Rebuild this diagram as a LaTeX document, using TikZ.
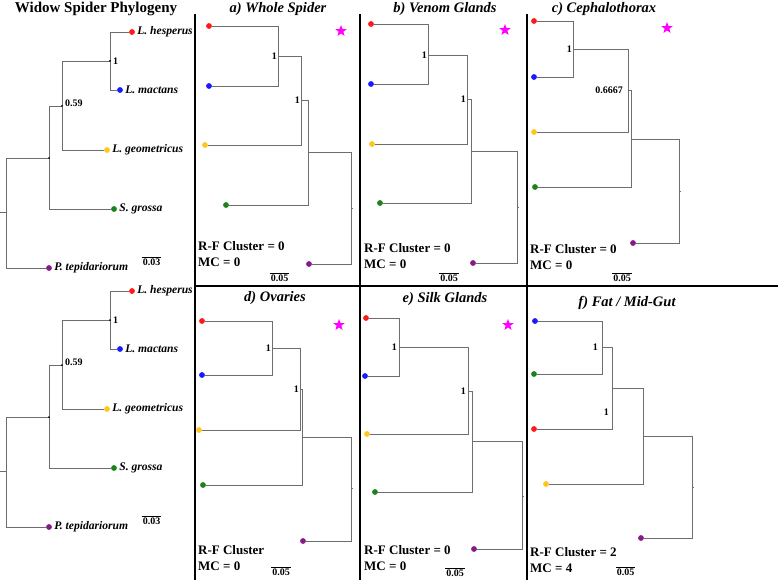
\documentclass[tikz,border=0pt]{standalone}
\usepackage{fontspec}
\setmainfont{Liberation Serif}
\usepackage{xcolor}
\definecolor{cEdge}{HTML}{6E6E6E}
\definecolor{cRed}{HTML}{FF1A1A}
\definecolor{cBlue}{HTML}{1A1AFF}
\definecolor{cGold}{HTML}{FFC61E}
\definecolor{cGreen}{HTML}{1A841A}
\definecolor{cPurple}{HTML}{861A86}
\definecolor{cStar}{HTML}{FF00FF}
\usetikzlibrary{positioning,shapes.geometric}
\tikzset{
  tree-edge/.style={draw=cEdge,line width=0.9pt},
  leaf-dot/.style={circle,fill=#1,inner sep=0pt,minimum size=5.8pt},
  taxon/.style={font=\bfseries\itshape\fontsize{11.6}{12}\selectfont,inner sep=0pt},
  support/.style={font=\bfseries\fontsize{10}{11}\selectfont,inner sep=1pt},
  panel-title/.style={font=\bfseries\itshape\fontsize{14.5}{16}\selectfont,inner sep=0pt},
  main-title/.style={font=\bfseries\fontsize{15}{16}\selectfont,inner sep=0pt},
  stat-text/.style={font=\bfseries\fontsize{13}{14}\selectfont,anchor=west,inner sep=0pt},
  scale-bar/.style={font=\bfseries\fontsize{10}{11}\selectfont,inner sep=1pt},
  panel-rule/.style={line width=2.5pt,draw=black},
  mark-star/.style={star,star points=5,star point ratio=2.4,fill=cStar,
    inner sep=0pt,minimum size=12pt},
}

\begin{document}
\begin{tikzpicture}[x=1pt,y=-1pt]
  \useasboundingbox (0,0) rectangle (778,580);

  % panel frame
  \draw[panel-rule] (195,14) -- (195,580) (360,14) -- (360,580)
    (527,14) -- (527,580) (195,286) -- (778,286);

  % reference tree, drawn twice
  \node[main-title,anchor=base] (ttl-main) at (96,12.5) {Widow Spider Phylogeny};
  \foreach \pre/\dy in {t/0,u/259}{
    \begin{scope}[shift={(0,\dy)}]
      \node[leaf-dot=cRed] (\pre-hesp) at (132,32) {};
      \node[leaf-dot=cBlue] (\pre-mact) at (120,90) {};
      \node[leaf-dot=cGold] (\pre-geom) at (107,150) {};
      \node[leaf-dot=cGreen] (\pre-gros) at (114,209) {};
      \node[leaf-dot=cPurple] (\pre-tepi) at (49,268) {};
      \coordinate (\pre-n1) at (110,61);
      \coordinate (\pre-n2) at (62,106);
      \coordinate (\pre-n3) at (49,158);
      \coordinate (\pre-root) at (6,212);
      \coordinate (\pre-stub) at (0,212);
      \draw[tree-edge] (\pre-n1) |- (\pre-hesp) (\pre-n1) |- (\pre-mact)
        (\pre-n2) |- (\pre-n1) (\pre-n2) |- (\pre-geom)
        (\pre-n3) |- (\pre-n2) (\pre-n3) |- (\pre-gros)
        (\pre-root) |- (\pre-n3) (\pre-root) |- (\pre-tepi)
        (\pre-stub) -- (\pre-root);
      \foreach \k in {n1,n2,n3} \fill (\pre-\k) circle (1pt);
      \node[taxon,right=2pt of \pre-hesp] {L. hesperus};
      \node[taxon,right=2pt of \pre-mact] {L. mactans};
      \node[taxon,right=2pt of \pre-geom] {L. geometricus};
      \node[taxon,right=2pt of \pre-gros] {S. grossa};
      \node[taxon,right=2pt of \pre-tepi] {P. tepidariorum};
      \node[support,right=2pt of \pre-n1] {1};
      \node[support,right=2pt of \pre-n2,yshift=3pt] {0.59};
      \node[scale-bar] (\pre-scale) at (151.5,262) {0.03};
      \draw[line width=0.9pt] (\pre-scale.north west) -- (\pre-scale.north east);
    \end{scope}
  }

  % a) whole spider
  \node[panel-title,anchor=base] (ttl-a) at (278,12.5) {a) Whole Spider};
  \node[leaf-dot=cRed] (a-l1) at (209,26) {};
  \node[leaf-dot=cBlue] (a-l2) at (209,86) {};
  \node[leaf-dot=cGold] (a-l3) at (205,145) {};
  \node[leaf-dot=cGreen] (a-l4) at (226,205) {};
  \node[leaf-dot=cPurple] (a-l5) at (309,264) {};
  \coordinate (a-n1) at (278,56);
  \coordinate (a-n2) at (301,100);
  \coordinate (a-n3) at (308,152);
  \coordinate (a-n4) at (351,208);
  \node[support,left=0pt of a-n1] {1};
  \node[support,left=0pt of a-n2] {1};
  \node[mark-star] (star-a) at (341,31) {};
  \node[stat-text] (rf-a) at (198,246) {R-F Cluster = 0};
  \node[stat-text] (mc-a) at (198,262) {MC = 0};
  \node[scale-bar] (sc-a) at (279.5,278) {0.05};

  % b) venom glands
  \node[panel-title,anchor=base] (ttl-b) at (445,12.5) {b) Venom Glands};
  \node[leaf-dot=cRed] (b-l1) at (371,24) {};
  \node[leaf-dot=cBlue] (b-l2) at (371,84) {};
  \node[leaf-dot=cGold] (b-l3) at (372,144) {};
  \node[leaf-dot=cGreen] (b-l4) at (380,203) {};
  \node[leaf-dot=cPurple] (b-l5) at (473,263) {};
  \coordinate (b-n1) at (428,55);
  \coordinate (b-n2) at (467,99);
  \coordinate (b-n3) at (471,151);
  \coordinate (b-n4) at (517,207);
  \node[support,left=0pt of b-n1] {1};
  \node[support,left=0pt of b-n2] {1};
  \node[mark-star] (star-b) at (505,30) {};
  \node[stat-text] (rf-b) at (364,248) {R-F Cluster = 0};
  \node[stat-text] (mc-b) at (364,264) {MC = 0};
  \node[scale-bar] (sc-b) at (449,278) {0.05};

  % c) cephalothorax
  \node[panel-title,anchor=base] (ttl-c) at (604,12.5) {c) Cephalothorax};
  \node[leaf-dot=cRed] (c-l1) at (534,21) {};
  \node[leaf-dot=cBlue] (c-l2) at (534,77) {};
  \node[leaf-dot=cGold] (c-l3) at (534,132) {};
  \node[leaf-dot=cGreen] (c-l4) at (535,187) {};
  \node[leaf-dot=cPurple] (c-l5) at (633,243) {};
  \coordinate (c-n1) at (573,49);
  \coordinate (c-n2) at (628,90);
  \coordinate (c-n3) at (631,139);
  \coordinate (c-n4) at (679,191);
  \node[support,left=0pt of c-n1] {1};
  \node[support,left=4pt of c-n2] {0.6667};
  \node[mark-star] (star-c) at (667,28) {};
  \node[stat-text] (rf-c) at (530,249) {R-F Cluster = 0};
  \node[stat-text] (mc-c) at (530,265) {MC = 0};
  \node[scale-bar] (sc-c) at (622,278) {0.05};

  % d) ovaries
  \node[panel-title,anchor=base] (ttl-d) at (275,301) {d) Ovaries};
  \node[leaf-dot=cRed] (d-l1) at (202,321) {};
  \node[leaf-dot=cBlue] (d-l2) at (202,375) {};
  \node[leaf-dot=cGold] (d-l3) at (199,430) {};
  \node[leaf-dot=cGreen] (d-l4) at (203,485) {};
  \node[leaf-dot=cPurple] (d-l5) at (303,541) {};
  \coordinate (d-n1) at (272,348);
  \coordinate (d-n2) at (300,389);
  \coordinate (d-n3) at (302,437);
  \coordinate (d-n4) at (351,488);
  \node[support,left=0pt of d-n1] {1};
  \node[support,left=0pt of d-n2] {1};
  \node[mark-star] (star-d) at (339,325) {};
  \node[stat-text] (rf-d) at (198,550) {R-F Cluster};
  \node[stat-text] (mc-d) at (198,566) {MC = 0};
  \node[scale-bar] (sc-d) at (281,572) {0.05};

  % e) silk glands
  \node[panel-title,anchor=base] (ttl-e) at (445,302) {e) Silk Glands};
  \node[leaf-dot=cRed] (e-l1) at (366,318) {};
  \node[leaf-dot=cBlue] (e-l2) at (365,376) {};
  \node[leaf-dot=cGold] (e-l3) at (367,434) {};
  \node[leaf-dot=cGreen] (e-l4) at (375,492) {};
  \node[leaf-dot=cPurple] (e-l5) at (474,549) {};
  \coordinate (e-n1) at (399,347);
  \coordinate (e-n2) at (468,391);
  \coordinate (e-n3) at (472,441);
  \coordinate (e-n4) at (522,496);
  \node[support,left=1pt of e-n1] {1};
  \node[support,left=1pt of e-n2] {1};
  \node[mark-star] (star-e) at (508,325) {};
  \node[stat-text] (rf-e) at (364,550) {R-F Cluster = 0};
  \node[stat-text] (mc-e) at (364,566) {MC = 0};
  \node[scale-bar] (sc-e) at (455,573) {0.05};

  % f) fat / mid-gut
  \node[panel-title,anchor=base] (ttl-f) at (627,306) {f) Fat / Mid-Gut};
  \node[leaf-dot=cBlue] (f-l1) at (535,321) {};
  \node[leaf-dot=cGreen] (f-l2) at (534,374) {};
  \node[leaf-dot=cRed] (f-l3) at (534,429) {};
  \node[leaf-dot=cGold] (f-l4) at (546,484) {};
  \node[leaf-dot=cPurple] (f-l5) at (641,538) {};
  \coordinate (f-n1) at (602,347);
  \coordinate (f-n2) at (612,388);
  \coordinate (f-n3) at (643,436);
  \coordinate (f-n4) at (692,487);
  \node[support,left=3pt of f-n1] {1};
  \node[support,left=2pt of f-n2,yshift=-24pt] {1};
  \node[stat-text] (rf-f) at (530,552) {R-F Cluster = 2};
  \node[stat-text] (mc-f) at (530,568) {MC = 4};
  \node[scale-bar] (sc-f) at (625.5,572) {0.05};

  % branches of the six tissue trees
  \foreach \p in {a,b,c,d,e,f}{
    \draw[tree-edge] (\p-n1) |- (\p-l1) (\p-n1) |- (\p-l2)
      (\p-n2) |- (\p-n1) (\p-n2) |- (\p-l3)
      (\p-n3) |- (\p-n2) (\p-n3) |- (\p-l4)
      (\p-n4) |- (\p-n3) (\p-n4) |- (\p-l5)
      (\p-n4) -- ++(2,0);
    \draw[line width=0.9pt] (sc-\p.north west) -- (sc-\p.north east);
  }
\end{tikzpicture}
\end{document}
